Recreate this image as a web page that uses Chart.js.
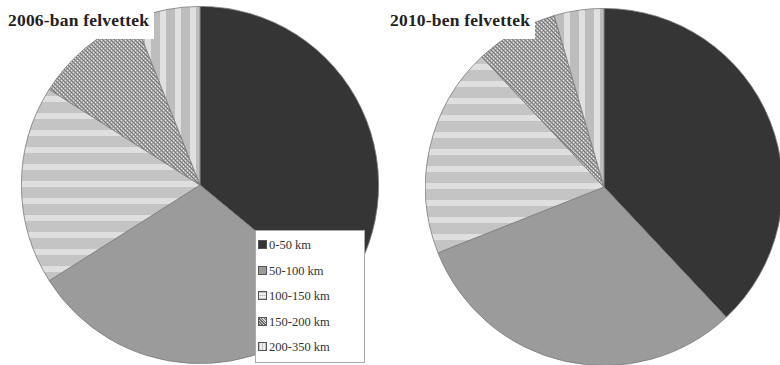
<!DOCTYPE html>
<html>
<head>
<meta charset="utf-8">
<script src="https://cdn.jsdelivr.net/npm/chart.js@4"></script>
<style>
  html, body { margin: 0; padding: 0; background: #fff; }
  body { width: 780px; height: 365px; position: relative; overflow: hidden; }
  .pie { position: absolute; width: 358px; height: 358px; }
  .ttl { position: absolute; background: #fff; font-family: "Liberation Serif", "DejaVu Serif", serif; font-weight: bold;
         font-size: 17.5px; color: #222; padding: 3px 5px 8px 6px; letter-spacing: 0.2px; }
  #legend { position: absolute; left: 255px; top: 230px; width: 110px; height: 133px; background: #fff;
            border: 1px solid #aaa; box-sizing: border-box; font-family: "Liberation Serif", "DejaVu Serif", serif;
            font-size: 12.5px; color: #333; }
  #legend div { position: absolute; left: 2px; height: 14px; line-height: 14px; white-space: nowrap; }
  #legend span { display: inline-block; width: 7px; height: 7px; border: 1px solid #555; margin-right: 2px; vertical-align: 0; }
</style>
</head>
<body>
<canvas id="c2006" class="pie" style="left:21px; top:6px"></canvas>
<canvas id="c2010" class="pie" style="left:425px; top:8px"></canvas>
<div class="ttl" style="left:2px; top:7px">2006-ban felvettek</div>
<div class="ttl" style="left:384px; top:7px">2010-ben felvettek</div>
<div id="legend"></div>
<script>
const categories = ['0-50 km', '50-100 km', '100-150 km', '150-200 km', '200-350 km'];
const share2006 = [36, 30, 18, 10, 6];
const share2010 = [38, 31, 19, 7.5, 4.5];

// grey fills: solid, solid, horizontal bands, fine diagonal hatch, vertical bands
function tile(w, h, draw) {
  const c = document.createElement('canvas');
  c.width = w; c.height = h;
  const g = c.getContext('2d');
  draw(g);
  return c;
}
const hBands = tile(8, 17, g => {
  g.fillStyle = '#c4c4c4'; g.fillRect(0, 0, 8, 17);
  g.fillStyle = '#dfdfdf'; g.fillRect(0, 5, 8, 6);
});
const vBands = tile(15, 8, g => {
  g.fillStyle = '#bdbdbd'; g.fillRect(0, 0, 15, 8);
  g.fillStyle = '#e0e0e0'; g.fillRect(4, 0, 6, 8);
});
const hatch = tile(4, 4, g => {
  g.fillStyle = '#a8a8a8'; g.fillRect(0, 0, 4, 4);
  g.fillStyle = '#777';
  for (let i = 0; i < 4; i++) g.fillRect(i, i, 1, 1);
  g.fillStyle = '#e6e6e6';
  for (let i = 0; i < 4; i += 2) g.fillRect((i + 2) % 4, i, 1, 1);
});

function fills(ctx) {
  return ['#353535', '#9b9b9b',
    ctx.createPattern(hBands, 'repeat'),
    ctx.createPattern(hatch, 'repeat'),
    ctx.createPattern(vBands, 'repeat')];
}

function makePie(id, values) {
  const ctx = document.getElementById(id).getContext('2d');
  return new Chart(ctx, {
    type: 'pie',
    data: {
      labels: categories,
      datasets: [{
        data: values,
        backgroundColor: fills(ctx),
        borderColor: '#7a7a7a',
        borderWidth: 0.8
      }]
    },
    options: {
      responsive: false,
      animation: false,
      layout: { padding: 0 },
      plugins: { legend: { display: false }, tooltip: { enabled: false } }
    }
  });
}

makePie('c2006', share2006);
makePie('c2010', share2010);

// legend box drawn over the left pie
const swatchCss = [
  'background:#353535',
  'background:#9b9b9b',
  'background:repeating-linear-gradient(0deg,#c4c4c4 0 1px,#eee 1px 3px)',
  'background:repeating-linear-gradient(45deg,#666 0 1px,#ddd 1px 2px)',
  'background:repeating-linear-gradient(90deg,#c4c4c4 0 1px,#eee 1px 3px)'
];
const legend = document.getElementById('legend');
categories.forEach((name, i) => {
  const row = document.createElement('div');
  row.style.top = (7 + i * 25.5) + 'px';
  row.innerHTML = '<span style="' + swatchCss[i] + '"></span>' + name;
  legend.appendChild(row);
});
</script>
</body>
</html>
